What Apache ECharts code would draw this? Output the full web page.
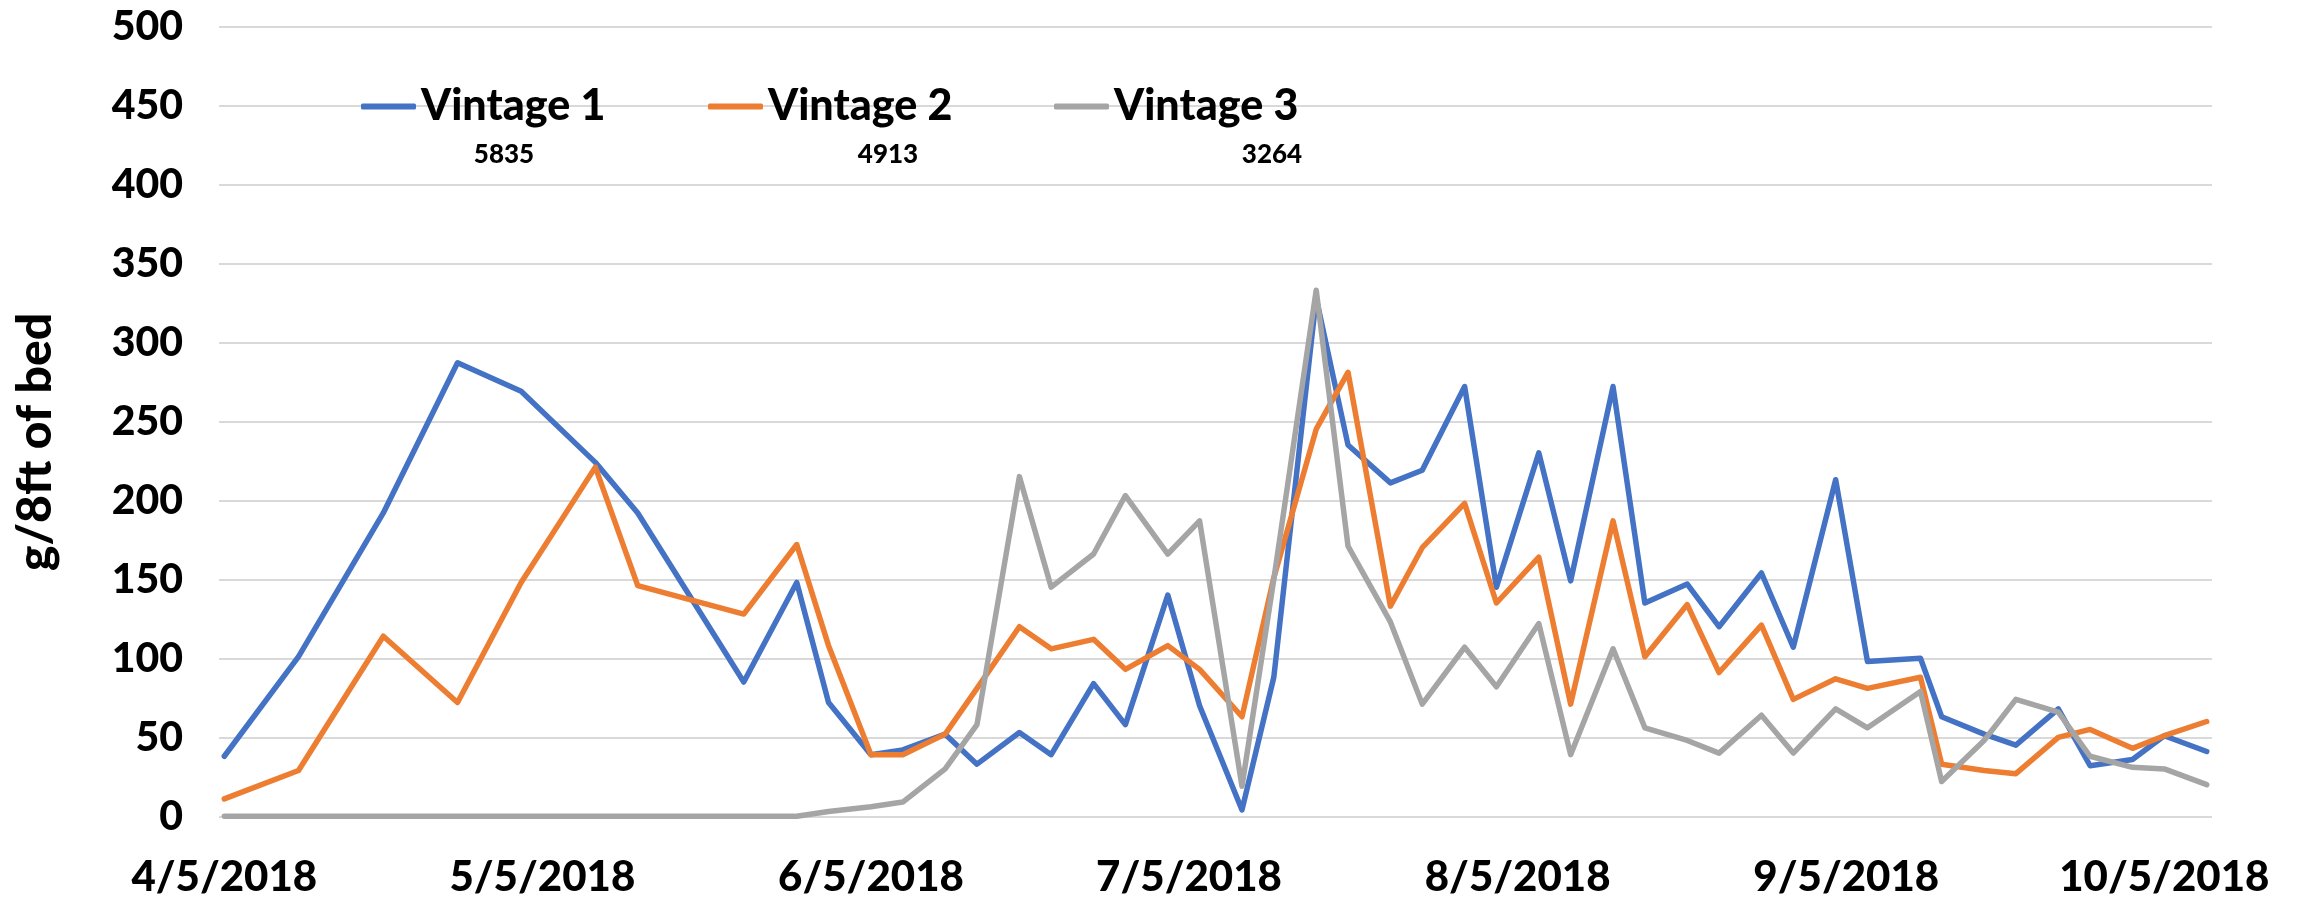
<!DOCTYPE html>
<html>
<head>
<meta charset="utf-8">
<script src="https://cdn.jsdelivr.net/npm/echarts@6/dist/echarts.min.js"></script>
<style>
html,body{margin:0;padding:0;background:#fff;}
#chart{width:2305px;height:908px;}
</style>
</head>
<body>
<div id="chart"></div>
<script>
// Sample dates (M/D/2018)
var dates = ['2018-04-05','2018-04-12','2018-04-20','2018-04-27','2018-05-03','2018-05-10','2018-05-14','2018-05-24','2018-05-29','2018-06-01',
  '2018-06-05','2018-06-08','2018-06-12','2018-06-15','2018-06-19','2018-06-22','2018-06-26','2018-06-29','2018-07-03','2018-07-06',
  '2018-07-10','2018-07-13','2018-07-17','2018-07-20','2018-07-24','2018-07-27','2018-07-31','2018-08-03','2018-08-07','2018-08-10',
  '2018-08-14','2018-08-17','2018-08-21','2018-08-24','2018-08-28','2018-08-31','2018-09-04','2018-09-07','2018-09-12','2018-09-14',
  '2018-09-18','2018-09-21','2018-09-25','2018-09-28','2018-10-02','2018-10-05','2018-10-09'];
var seriesNames = ['Vintage 1','Vintage 2','Vintage 3'];
var vintage1 = [38,101,192,287,269,224,192,85,148,72, 39,42,52,33,53,39,84,58,140,70, 4,88,328,235,211,219,272,145,230,149, 272,135,147,120,154,107,213,98,100,63, 52,45,68,32,36,51,41];
var vintage2 = [11,29,114,72,148,221,146,128,172,108, 39,39,52,81,120,106,112,93,108,93, 63,151,245,281,133,170,198,135,164,71, 187,101,134,91,121,74,87,81,88,33, 29,27,50,55,43,51,60];
var vintage3 = [0,0,0,0,0,0,0,0,0,3, 6,9,30,58,215,145,166,203,166,187, 19,150,333,171,123,71,107,82,122,39, 106,56,48,40,64,40,68,56,79,22, 48,74,66,38,31,30,20];
var totals = ['5835','4913','3264'];
var xTickDates = ['2018-04-05','2018-05-05','2018-06-05','2018-07-05','2018-08-05','2018-09-05','2018-10-05'];
var yTicks = [0,50,100,150,200,250,300,350,400,450,500];
var yTitle = 'g/8ft of bed';
var colors = ['#4472C4','#ED7D31','#A5A5A5'];

var DAY = 86400000;
function toTime(s){ var p = s.split('-'); return Date.UTC(+p[0], +p[1]-1, +p[2]); }
var xMin = toTime(dates[0]) - DAY/2;
var xMax = toTime(dates[dates.length-1]) + DAY/2;
var FONT = 'Lato';
var WEIGHT = 900;

var chart = echarts.init(document.getElementById('chart'), null, {renderer:'canvas'});
var allVals = [vintage1, vintage2, vintage3];
var series = seriesNames.map(function(n, k){
  return {
    name: n, type: 'line', symbol: 'none', showSymbol: false, animation: false,
    lineStyle: {color: colors[k], width: 5.5, cap: 'round', join: 'round'},
    itemStyle: {color: colors[k]},
    data: dates.map(function(d, i){ return [toTime(d), allVals[k][i]]; })
  };
});
var legendLefts = [356, 703, 1049];
var legends = seriesNames.map(function(n, k){
  return {
    data: [n], left: legendLefts[k], top: 80, icon: 'roundRect', itemWidth: 55, itemHeight: 6, itemGap: 5,
    textStyle: {fontFamily: FONT, fontWeight: WEIGHT, fontSize: 43, color: '#000'},
    selectedMode: false
  };
});
var totalX = [504, 888, 1272];
var option = {
  backgroundColor: '#fff',
  animation: false,
  color: colors,
  grid: {left: 219, right: 93, top: 26.3, bottom: 91.7, containLabel: false},
  legend: legends,
  xAxis: {
    type: 'value', min: xMin, max: xMax,
    axisLine: {show: false}, axisTick: {show: false}, splitLine: {show: false},
    axisLabel: {
      customValues: xTickDates.map(toTime),
      formatter: function(v){ var d = new Date(v); return (d.getUTCMonth()+1) + '/' + d.getUTCDate() + '/' + d.getUTCFullYear(); },
      fontFamily: FONT, fontWeight: WEIGHT, fontSize: 42, color: '#000', margin: 40
    }
  },
  yAxis: {
    type: 'value', min: yTicks[0], max: yTicks[yTicks.length-1], interval: 50,
    axisLine: {show: false}, axisTick: {show: false},
    splitLine: {lineStyle: {color: '#D9D9D9', width: 2}},
    axisLabel: {fontFamily: FONT, fontWeight: WEIGHT, fontSize: 41, color: '#000', margin: 36}
  },
  graphic: [
    {type: 'text', x: 36, y: 442, rotation: Math.PI/2,
     style: {text: yTitle, fontFamily: FONT, fontWeight: WEIGHT, fontSize: 48, fill: '#000', align: 'center', verticalAlign: 'middle'}}
  ].concat(totals.map(function(t, k){
    return {type: 'text', x: totalX[k], y: 155, style: {text: t, fontFamily: FONT, fontWeight: WEIGHT, fontSize: 26, fill: '#000', align: 'center', verticalAlign: 'middle'}};
  })),
  series: series
};
chart.setOption(option);
</script>
</body>
</html>
